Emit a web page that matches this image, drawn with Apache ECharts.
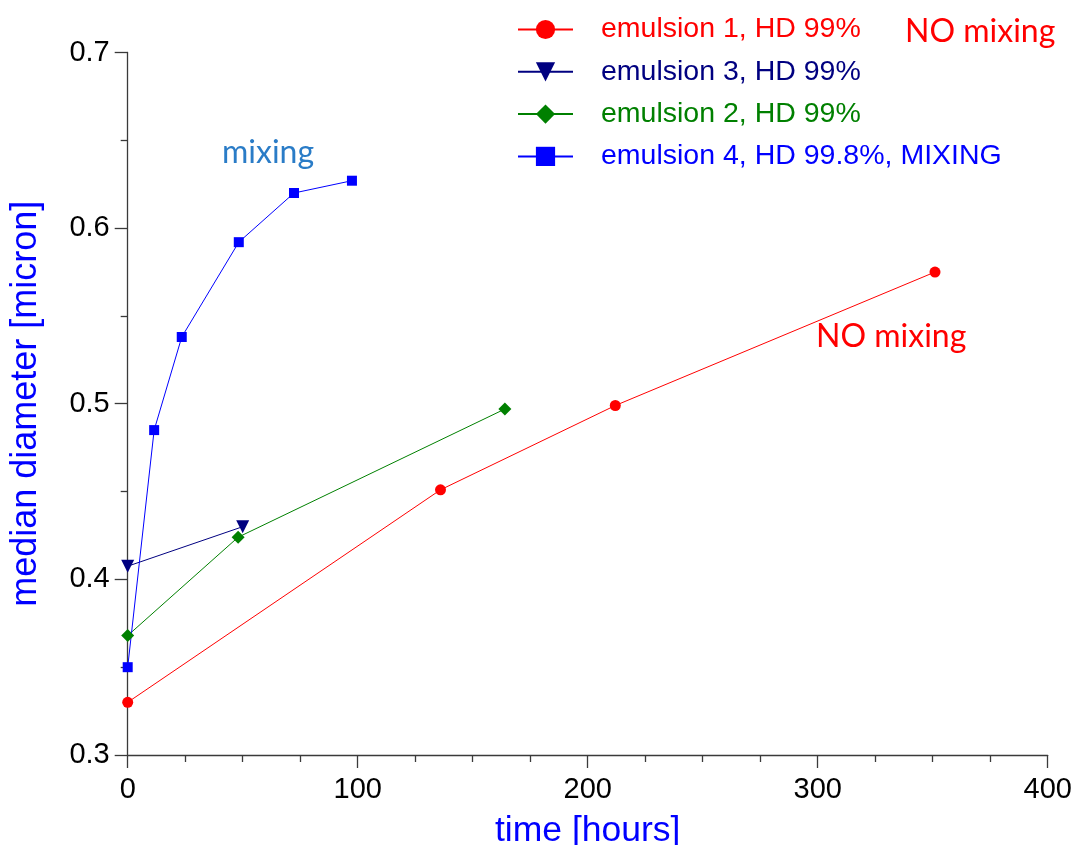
<!DOCTYPE html>
<html>
<head>
<meta charset="utf-8">
<script src="https://cdn.jsdelivr.net/npm/echarts@6/dist/echarts.min.js"></script>
<style>
html,body{margin:0;padding:0;background:#fff;}
#chart{width:1074px;height:845px;}
</style>
</head>
<body>
<div id="chart"></div>
<script>
// ---- data ----
const seriesNames = ['emulsion 1, HD 99%', 'emulsion 3, HD 99%', 'emulsion 2, HD 99%', 'emulsion 4, HD 99.8%, MIXING'];
const em1Time = [0, 136, 212, 351];
const em1Diam = [0.330, 0.451, 0.499, 0.575];
const em3Time = [0, 50];
const em3Diam = [0.4075, 0.430];
const em2Time = [0, 48, 164];
const em2Diam = [0.368, 0.424, 0.497];
const em4Time = [0, 11.5, 23.5, 48.3, 72.3, 97.5];
const em4Diam = [0.350, 0.485, 0.538, 0.592, 0.620, 0.627];
const xTicks = [0, 100, 200, 300, 400];
const yTicks = [0.3, 0.4, 0.5, 0.6, 0.7];

const pair = (xs, ys) => xs.map((x, i) => [x, ys[i]]);
const colors = ['#ff0000', '#000080', '#008000', '#0000ff'];

const chart = echarts.init(document.getElementById('chart'), null, {renderer: 'canvas'});
const axisCol = '#3a3a3a';
const mk = (i, data, symbol, size, extra) => Object.assign({
  name: seriesNames[i],
  type: 'line',
  data: data,
  symbol: symbol,
  symbolSize: size,
  showAllSymbol: true,
  itemStyle: {color: colors[i]},
  lineStyle: {color: colors[i], width: 1},
  emphasis: {disabled: true},
  animation: false,
  z: 2
}, extra || {});

chart.setOption({
  animation: false,
  grid: {left: 127.7, right: 26.3, top: 52.5, bottom: 90, containLabel: false, outerBoundsMode: 'none'},
  legend: {
    orient: 'vertical',
    left: 517,
    top: 15,
    padding: 0,
    itemWidth: 55,
    itemHeight: 24,
    itemGap: 13.3,
    data: seriesNames.map((n, i) => ({name: n, textStyle: {color: colors[i]}})),
    textStyle: {fontFamily: 'Liberation Sans', fontSize: 28.5, padding: [0, 0, 0, 23]},
    selectedMode: false
  },
  xAxis: {
    type: 'value',
    min: xTicks[0], max: xTicks[xTicks.length - 1], interval: 100,
    name: 'time [hours]',
    nameLocation: 'middle',
    nameGap: 58,
    nameTextStyle: {color: '#0000ff', fontFamily: 'Liberation Sans', fontSize: 35.5},
    axisLine: {show: true, onZero: false, lineStyle: {color: axisCol, width: 1.3}},
    axisTick: {show: true, inside: false, length: 13, lineStyle: {color: axisCol, width: 1.3}},
    minorTick: {show: true, splitNumber: 4, length: 7, lineStyle: {color: axisCol, width: 1.3}},
    axisLabel: {color: '#000', fontFamily: 'Liberation Sans', fontSize: 29, margin: 20},
    splitLine: {show: false},
    minorSplitLine: {show: false}
  },
  yAxis: {
    type: 'value',
    min: yTicks[0], max: yTicks[yTicks.length - 1], interval: 0.1,
    name: 'median diameter [micron]',
    nameLocation: 'middle',
    nameGap: 84,
    nameTextStyle: {color: '#0000ff', fontFamily: 'Liberation Sans', fontSize: 36},
    axisLine: {show: true, onZero: false, lineStyle: {color: axisCol, width: 1.3}},
    axisTick: {show: true, inside: false, length: 13, lineStyle: {color: axisCol, width: 1.3}},
    minorTick: {show: true, splitNumber: 2, length: 7, lineStyle: {color: axisCol, width: 1.3}},
    axisLabel: {color: '#000', fontFamily: 'Liberation Sans', fontSize: 29, margin: 18,
      formatter: v => v.toFixed(1)},
    splitLine: {show: false},
    minorSplitLine: {show: false}
  },
  graphic: [
    {type: 'text', left: 222, top: 137, style: {text: 'mixing', fill: '#2a7cc7', font: '32px Lato'}},
    {type: 'text', left: 816, top: 321, style: {text: 'NO mixing', fill: '#ff0000', font: '32px Lato'}},
    {type: 'text', left: 905, top: 16, style: {text: 'NO mixing', fill: '#ff0000', font: '32px Lato'}}
  ],
  series: [
    mk(0, pair(em1Time, em1Diam), 'circle', 11),
    mk(1, pair(em3Time, em3Diam), 'triangle', 13, {symbolRotate: 180}),
    mk(2, pair(em2Time, em2Diam), 'diamond', 13),
    mk(3, pair(em4Time, em4Diam), 'rect', 10)
  ]
});
</script>
</body>
</html>
